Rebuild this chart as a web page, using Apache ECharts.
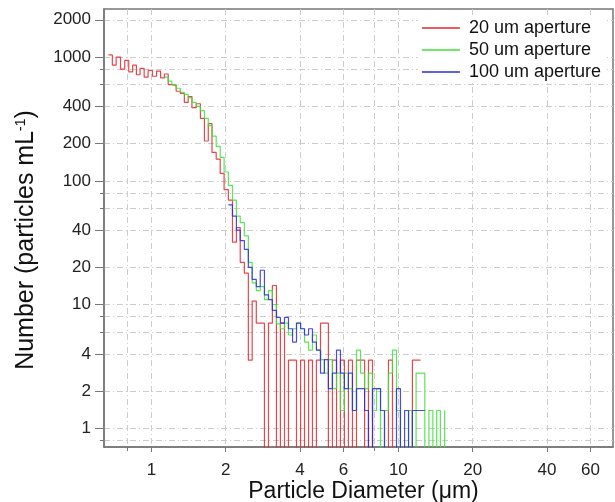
<!DOCTYPE html>
<html>
<head>
<meta charset="utf-8">
<script src="https://cdn.jsdelivr.net/npm/echarts@6/dist/echarts.min.js"></script>
<style>
html,body{margin:0;padding:0;background:#fff;}
#chart{width:615px;height:502px;}
</style>
</head>
<body>
<div id="chart"></div>
<script>
// bin left edges (um)
var diam = [0.67,0.695,0.72,0.75,0.78,0.81,0.84,0.87,0.90,0.935,0.97,1.01,1.05,1.09,1.13,1.17,1.21,1.26,1.31,1.36,
	1.41,1.46,1.52,1.58,1.64,1.70,1.76,1.83,1.90,1.97,2.05,2.13,2.21,2.29,2.38,2.47,2.56,2.66,2.76,2.87,
	2.98,3.09,3.21,3.33,3.46,3.59,3.73,3.87,4.02,4.17,4.33,4.49,4.66,4.84,5.02,5.21,5.41,5.62,5.83,6.05,
	6.28,6.52,6.77,7.03,7.30,7.57,7.86,8.16,8.47,8.79,9.12,9.47,9.83,10.2,10.6,11.0,11.4,11.8,12.3,12.8,
	13.3,13.8,14.3,14.8,15.4];

// particles per mL, null = not measured
var ap20 = [1040,860,1000,800,940,760,860,720,810,690,780,700,770,680,730,600,590,530,510,430,
	480,390,420,320,210,290,170,150,115,85,70,32,42,22,18,3.57,10.7,7.1,7.1,0,
	7.1,14.3,0,7.1,0,3.57,3.57,0,3.57,0,3.57,0,3.57,7.1,7.1,0,3.57,0,3.57,0,
	3.57,0,3.57,3.57,0,3.57,0,0,0,0,3.57,0,0,0,0,0,3.57,3.57,null,null,
	null,null,null,null,null];
var ap50 = [null,null,null,null,null,null,null,null,null,null,null,null,null,null,690,640,600,560,520,500,
	470,430,400,370,320,280,230,190,155,118,92,70,52,46,36,22,15,13,14,11,
	13,10,7,6.4,7.1,5.7,6.4,7.1,6.4,5.0,4.3,5.7,4.3,3.6,2.8,3.6,2.1,2.8,1.4,2.8,
	2.1,1.4,4.3,2.8,2.1,2.8,1.4,2.1,0,1.4,2.8,4.3,1.4,0,0,1.4,0,2.8,2.8,0,
	1.4,0,1.4,0,1.4];
var ap100 = [null,null,null,null,null,null,null,null,null,null,null,null,null,null,null,null,null,null,null,null,
	null,null,null,null,null,null,null,null,null,null,64,52,40,33,28,20,16,14,19,12,
	11,9,7.9,7.1,7.9,6.4,5.0,7.1,6.4,5.7,6.4,5.0,4.3,2.8,3.6,2.1,2.8,4.3,2.8,2.1,
	2.8,1.4,2.1,2.1,1.4,0,2.1,2.1,1.4,0,0,0,2.1,0,1.4,0,1.4,1.4,1.4,null,
	null,null,null,null,null];

var names = ['20 um aperture','50 um aperture','100 um aperture'];
var colors = ['#e3262b','#3ee03a','#2b2bd8'];

var xMajor = [1,2,4,6,10,20,40,60];
var xMinor = [0.8,8];
var yMajor = [1,2,4,10,20,40,100,200,400,1000,2000];
var yMinor = [0.8,6,8,60,80,600,800];

var ZERO_FLOOR = 0.3; // empty bins drop below the axis

function toPairs(vals){
	var out = [];
	for(var i=0;i<diam.length;i++){
		var v = vals[i];
		if(v === null){ out.push([diam[i], null]); }
		else { out.push([diam[i], v === 0 ? ZERO_FLOOR : v]); }
	}
	return out;
}

function plain(v){ return String(v); }

var gridLine = {show:true, lineStyle:{color:'#cccccc', type:[6,3,1,3], width:1}};
var lbl = {fontFamily:'Liberation Sans, Arial', fontSize:17, color:'#222', formatter:plain};

var option = {
	animation:false,
	grid:{left:104, right:2, top:9, bottom:55, outerBoundsMode:'none', containLabel:false,
		show:true, borderColor:'#777', borderWidth:1.5},
	legend:{
		data:names, right:10, top:17, orient:'vertical', backgroundColor:'#fff',
		icon:'rect', itemWidth:38, itemHeight:1.5, itemGap:4, padding:[2,4,2,4],
		textStyle:{fontFamily:'Liberation Sans, Arial', fontSize:18, color:'#111', padding:[0,0,0,4]}
	},
	xAxis:[
		{
			type:'log', logBase:10, min:0.643, max:74, position:'bottom',
			name:'Particle Diameter (μm)', nameLocation:'middle', nameGap:33, nameMoveOverlap:false,
			nameTextStyle:{fontFamily:'Liberation Sans, Arial', fontSize:23, color:'#111', padding:[0,0,0,10]},
			axisLine:{show:true, lineStyle:{color:'#777', width:1.5}},
			axisTick:{show:true, inside:false, length:5, customValues:xMajor, lineStyle:{color:'#777'}},
			axisLabel:Object.assign({customValues:xMajor, margin:15}, lbl),
			splitLine:gridLine
		},
		{
			type:'log', logBase:10, min:0.643, max:74, position:'bottom', offset:0,
			axisLine:{show:false},
			axisTick:{show:true, length:4, customValues:xMinor, lineStyle:{color:'#777'}},
			axisLabel:{show:false},
			splitLine:gridLine
		}
	],
	yAxis:[
		{
			type:'log', logBase:10, min:0.71, max:2445, position:'left',
			name:'Number (particles mL{sup|-1})', nameLocation:'middle', nameGap:65, nameMoveOverlap:false,
			nameTextStyle:{fontFamily:'Liberation Sans, Arial', fontSize:25, color:'#111', padding:[0,24,0,0],
				rich:{sup:{fontFamily:'Liberation Sans, Arial', fontSize:14, color:'#111', verticalAlign:'top', padding:[0,0,11,0]}}},
			axisLine:{show:true, lineStyle:{color:'#777', width:1.5}},
			axisTick:{show:true, length:9, customValues:yMajor, lineStyle:{color:'#777'}},
			axisLabel:Object.assign({customValues:yMajor, margin:13}, lbl),
			splitLine:gridLine
		},
		{
			type:'log', logBase:10, min:0.71, max:2445, position:'left', offset:0,
			axisLine:{show:false},
			axisTick:{show:true, length:4, customValues:yMinor, lineStyle:{color:'#777'}},
			axisLabel:{show:false},
			splitLine:gridLine
		}
	],
	series:[ap20, ap50, ap100].map(function(vals, i){
		return {
			name:names[i], type:'line', step:'end', symbol:'none',
			xAxisIndex:0, yAxisIndex:0, clip:true, connectNulls:false,
			lineStyle:{color:colors[i], width:1.2, opacity:0.85},
			itemStyle:{color:colors[i]},
			data:toPairs(vals)
		};
	})
};

var myChart = echarts.init(document.getElementById('chart'));
myChart.setOption(option);
</script>
</body>
</html>
